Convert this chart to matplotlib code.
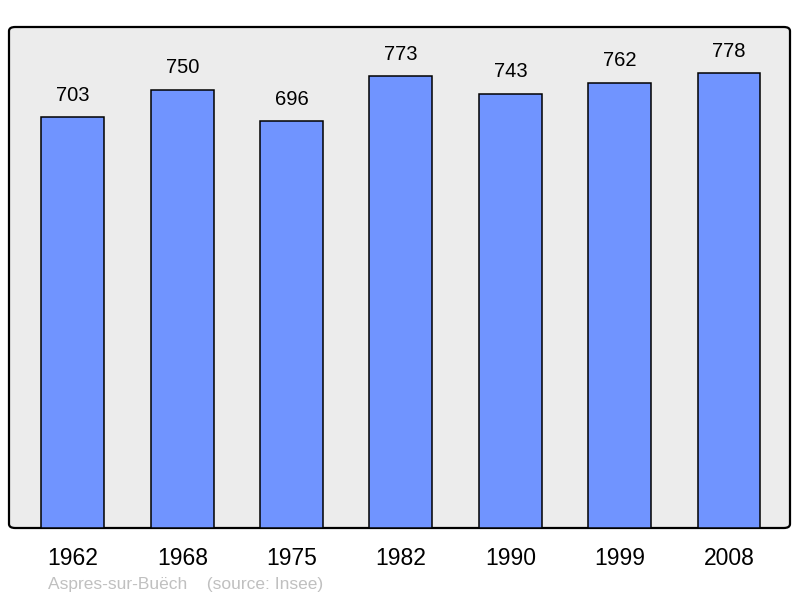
import matplotlib
matplotlib.use("Agg")
import matplotlib.pyplot as plt
from matplotlib.patches import FancyBboxPatch

years = ["1962", "1968", "1975", "1982", "1990", "1999", "2008"]
population = [703, 750, 696, 773, 743, 762, 778]

plt.rcParams['font.family'] = ['Liberation Sans', 'DejaVu Sans']

fig = plt.figure(figsize=(8, 5.98), dpi=100)
ax = fig.add_axes([9 / 800, 70 / 598, 781 / 800, 501 / 598])
ax.set_facecolor('none')
for s in ax.spines.values():
    s.set_visible(False)

# panel background with rounded corners
panel = FancyBboxPatch((0, 0), 1, 1, boxstyle="round,pad=0,rounding_size=0.008",
                       transform=ax.transAxes, facecolor='#ececec',
                       edgecolor='black', linewidth=1.6, zorder=0, clip_on=False)
ax.add_patch(panel)

x = list(range(len(years)))
ax.bar(x, population, width=0.576, color='#7094ff', edgecolor='black',
       linewidth=1.1, zorder=2)
for xi, v in zip(x, population):
    ax.annotate(str(v), (xi, v), xytext=(0, 9), textcoords='offset points',
                ha='center', va='bottom', fontsize=14.5)

ax.set_xlim(-0.585, 6.558)
ax.set_ylim(0, 857)
ax.set_yticks([])
ax.set_xticks(x)
ax.set_xticklabels(years, fontsize=16.5)
ax.tick_params(axis='x', length=0, pad=13.5)

fig.text(48 / 800, 1 - 584 / 598, "Aspres-sur-Buëch    (source: Insee)",
         color='#c0c0c0', fontsize=12.5, va='center', ha='left')

fig.savefig("out.png", dpi=100)
